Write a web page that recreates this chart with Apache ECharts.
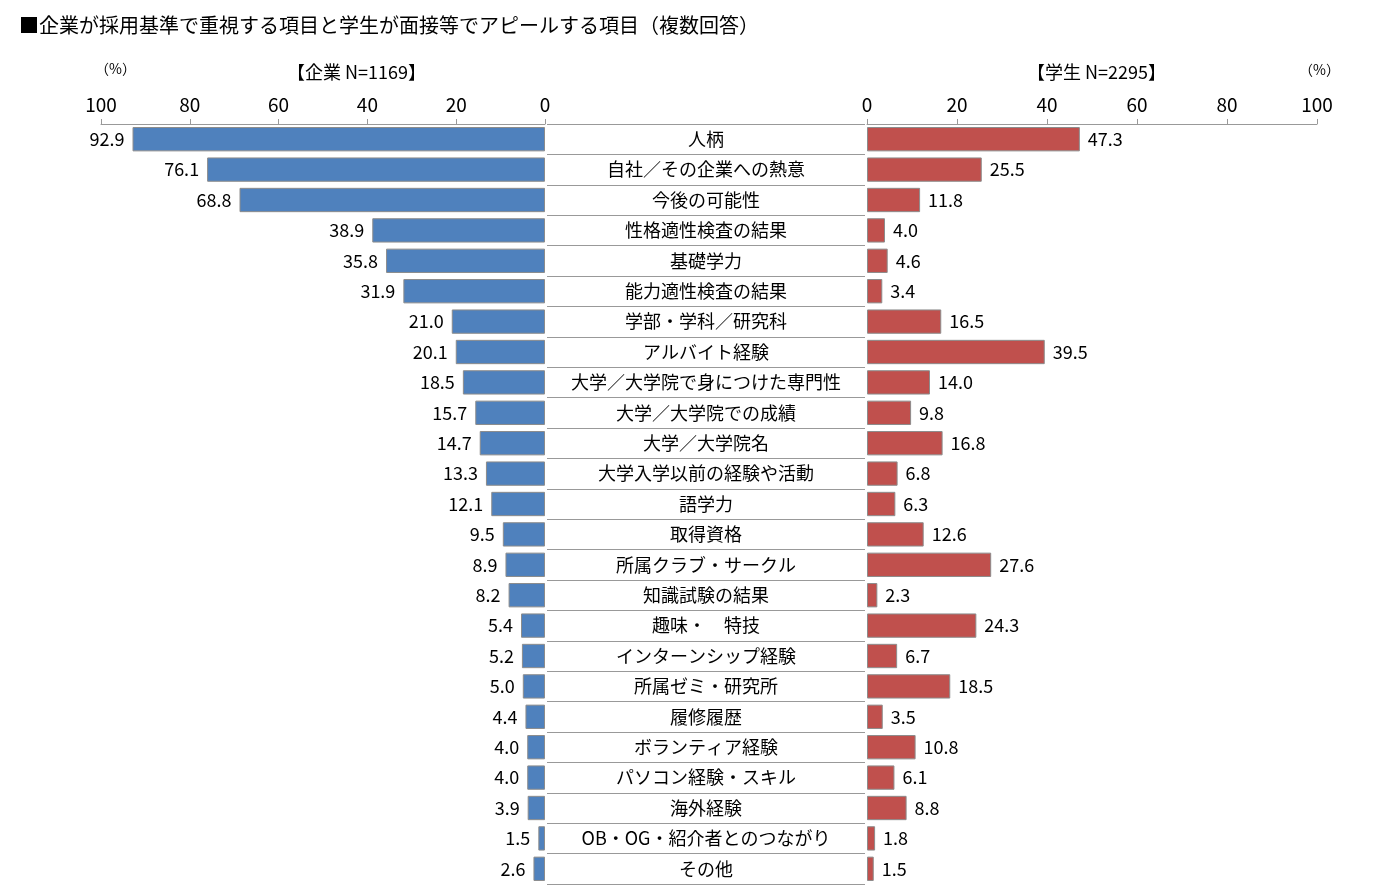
<!DOCTYPE html>
<html>
<head>
<meta charset="utf-8">
<script src="https://cdn.jsdelivr.net/npm/echarts@6/dist/echarts.min.js"></script>
<style>html,body{margin:0;padding:0;background:#fff}#chart{width:1384px;height:896px}</style>
</head>
<body>
<div id="chart"></div>
<script>
const categories = ["人柄", "自社／その企業への熱意", "今後の可能性", "性格適性検査の結果", "基礎学力", "能力適性検査の結果",
  "学部・学科／研究科", "アルバイト経験", "大学／大学院で身につけた専門性", "大学／大学院での成績", "大学／大学院名",
  "大学入学以前の経験や活動", "語学力", "取得資格", "所属クラブ・サークル", "知識試験の結果", "趣味・　特技",
  "インターンシップ経験", "所属ゼミ・研究所", "履修履歴", "ボランティア経験", "パソコン経験・スキル", "海外経験",
  "OB・OG・紹介者とのつながり", "その他"];
const companyValues = [92.9, 76.1, 68.8, 38.9, 35.8, 31.9, 21.0, 20.1, 18.5, 15.7, 14.7, 13.3, 12.1, 9.5, 8.9, 8.2, 5.4, 5.2, 5.0, 4.4, 4.0, 4.0, 3.9, 1.5, 2.6];
const studentValues = [47.3, 25.5, 11.8, 4.0, 4.6, 3.4, 16.5, 39.5, 14.0, 9.8, 16.8, 6.8, 6.3, 12.6, 27.6, 2.3, 24.3, 6.7, 18.5, 3.5, 10.8, 6.1, 8.8, 1.8, 1.5];

const font = "'Noto Sans CJK JP', 'Liberation Sans', sans-serif";
const chart = echarts.init(document.getElementById("chart"));
const grids = [
  { left: 101, right: 1384 - 545, top: 124, bottom: 12 },
  { left: 547, right: 1384 - 865, top: 124, bottom: 12 },
  { left: 867, right: 1384 - 1317, top: 124, bottom: 12 },
];
const valueAxis = (idx, inverse) => ({
  type: "value", gridIndex: idx, position: "top", min: 0, max: 100, interval: 20, inverse: inverse,
  axisLine: { show: true, lineStyle: { color: "#999" } },
  axisTick: { show: true, length: 5, lineStyle: { color: "#999" } },
  axisLabel: { color: "#000", fontSize: 19, fontFamily: font, margin: 10 },
  splitLine: { show: false },
});
const catAxis = (idx) => ({
  type: "category", gridIndex: idx, data: categories, inverse: true,
  axisLine: { show: false }, axisTick: { show: false }, axisLabel: { show: false },
});
const barLabel = (pos) => ({
  show: true, position: pos, distance: 8, color: "#000", fontSize: 18, fontFamily: font,
  formatter: (p) => p.value.toFixed(1),
});

chart.setOption({
  animation: false,
  textStyle: { fontFamily: font },
  title: [
    { text: "■企業が採用基準で重視する項目と学生が面接等でアピールする項目（複数回答）", left: 14, top: 10,
      textStyle: { fontSize: 20, fontWeight: "normal", color: "#000", fontFamily: font } },
    { text: "【企業 N=1169】", left: 282, top: 58, textStyle: { fontSize: 18, fontWeight: "normal", color: "#000" } },
    { text: "【学生 N=2295】", left: 1022, top: 58, textStyle: { fontSize: 18, fontWeight: "normal", color: "#000" } },
    { text: "（%）", left: 90, top: 57, textStyle: { fontSize: 14, fontWeight: "normal", color: "#000" } },
    { text: "（%）", left: 1294, top: 58, textStyle: { fontSize: 14, fontWeight: "normal", color: "#000" } },
  ],
  grid: grids,
  xAxis: [
    valueAxis(0, true),
    { type: "value", gridIndex: 1, show: false, min: 0, max: 1 },
    valueAxis(2, false),
  ],
  yAxis: [
    Object.assign(catAxis(0), { position: "right" }),
    {
      type: "category", gridIndex: 1, data: categories, inverse: true,
      axisLine: { show: false }, axisTick: { show: false },
      splitLine: { show: true, lineStyle: { color: "#999" } },
      axisLabel: { show: true, align: "center", margin: -159, color: "#000", fontSize: 18, fontFamily: font },
    },
    catAxis(2),
  ],
  series: [
    {
      type: "bar", xAxisIndex: 0, yAxisIndex: 0, data: companyValues, barWidth: "80%",
      itemStyle: { color: "#4F81BD", borderColor: "#8c8c8c", borderWidth: 1 },
      label: barLabel("left"),
    },
    {
      type: "bar", xAxisIndex: 2, yAxisIndex: 2, data: studentValues, barWidth: "80%",
      itemStyle: { color: "#C0504D", borderColor: "#8c8c8c", borderWidth: 1 },
      label: barLabel("right"),
    },
  ],
});
</script>
</body>
</html>
